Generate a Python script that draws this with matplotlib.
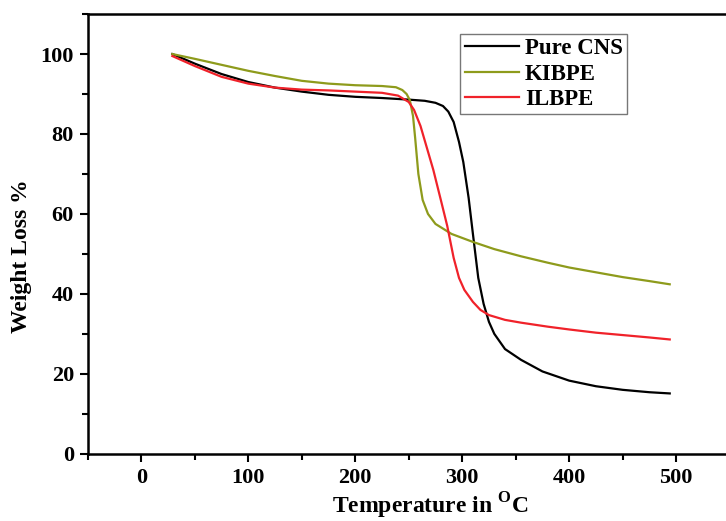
import matplotlib
matplotlib.use('Agg')
import matplotlib.pyplot as plt
from matplotlib.ticker import MultipleLocator

plt.rcParams['font.family'] = 'Liberation Serif'
plt.rcParams['font.weight'] = 'bold'
plt.rcParams['mathtext.fontset'] = 'custom'
plt.rcParams['mathtext.rm'] = 'Liberation Serif:bold'
plt.rcParams['mathtext.bf'] = 'Liberation Serif:bold'

# Pure CNS
cns_t = [29, 50, 75, 100, 125, 150, 175, 200, 225, 250, 265, 275, 282, 287, 292, 297,
         301, 306, 310, 315, 320, 325, 330, 340, 355, 375, 400, 425, 450, 475, 494]
cns_w = [100, 97.6, 95, 93, 91.6, 90.6, 89.8, 89.3, 89.0, 88.6, 88.3, 87.8, 87.0, 85.6, 83, 78,
         73, 64, 55, 44, 37.5, 33, 30, 26.2, 23.5, 20.6, 18.3, 16.9, 16.0, 15.4, 15.1]

# KIBPE
kib_t = [29, 50, 75, 100, 125, 150, 175, 200, 225, 238, 244, 248, 251, 254, 256, 259,
         263, 268, 275, 290, 310, 330, 355, 380, 400, 425, 450, 475, 494]
kib_w = [100, 98.8, 97.3, 95.8, 94.5, 93.3, 92.6, 92.2, 92.0, 91.7, 91.0, 90.0, 88.5, 84.5, 79, 70,
         63.5, 60, 57.5, 55, 53, 51.2, 49.4, 47.8, 46.6, 45.4, 44.2, 43.2, 42.4]

# ILBPE
ilb_t = [29, 50, 75, 100, 125, 150, 175, 200, 225, 240, 250, 255, 261, 267, 273, 280,
         286, 292, 297, 302, 310, 317, 325, 340, 355, 380, 400, 425, 450, 475, 494]
ilb_w = [99.5, 97, 94.3, 92.6, 91.6, 91.1, 90.9, 90.6, 90.3, 89.6, 88, 86, 82, 76.5, 71, 63.5,
         57, 49, 44, 41, 38, 36, 34.7, 33.5, 32.8, 31.8, 31.1, 30.3, 29.7, 29.1, 28.6]

fig = plt.figure(figsize=(7.26, 5.21), dpi=100)
ax = fig.add_axes([0.121, 0.129, 0.884, 0.844])

ax.plot(cns_t, cns_w, color='black', lw=1.6, label='Pure CNS')
ax.plot(kib_t, kib_w, color='#8e9b1c', lw=1.6, label='KIBPE')
ax.plot(ilb_t, ilb_w, color='#f0222a', lw=1.6, label='ILBPE')

ax.set_xlim(-50, 550)
ax.set_ylim(0, 110)
ax.xaxis.set_minor_locator(MultipleLocator(50))
ax.yaxis.set_major_locator(MultipleLocator(20))
ax.yaxis.set_minor_locator(MultipleLocator(10))
ax.set_xticks([0, 100, 200, 300, 400, 500])
ax.tick_params(which='major', direction='out', length=6, width=1.5, labelsize=16, pad=4)
ax.tick_params(which='minor', direction='out', length=4, width=1.5)
for s in ax.spines.values():
    s.set_linewidth(1.8)

ax.set_xlabel(r'Temperature in $^{\mathrm{O}}$C', fontsize=17, fontweight='bold')
ax.set_ylabel('Weight Loss %', fontsize=17, fontweight='bold')
ax.xaxis.set_label_coords(0.534, -0.083)
ax.yaxis.set_label_coords(-0.087, 0.45)

leg = ax.legend(loc='upper left', bbox_to_anchor=(0.58, 0.955), fontsize=16.5,
                frameon=True, fancybox=False, handlelength=2.36, borderaxespad=0,
                labelspacing=0.18, handletextpad=0.26, borderpad=0.2)
leg.get_frame().set_edgecolor('#555555')
leg.get_frame().set_linewidth(1.0)

fig.savefig('out.png', dpi=100)
